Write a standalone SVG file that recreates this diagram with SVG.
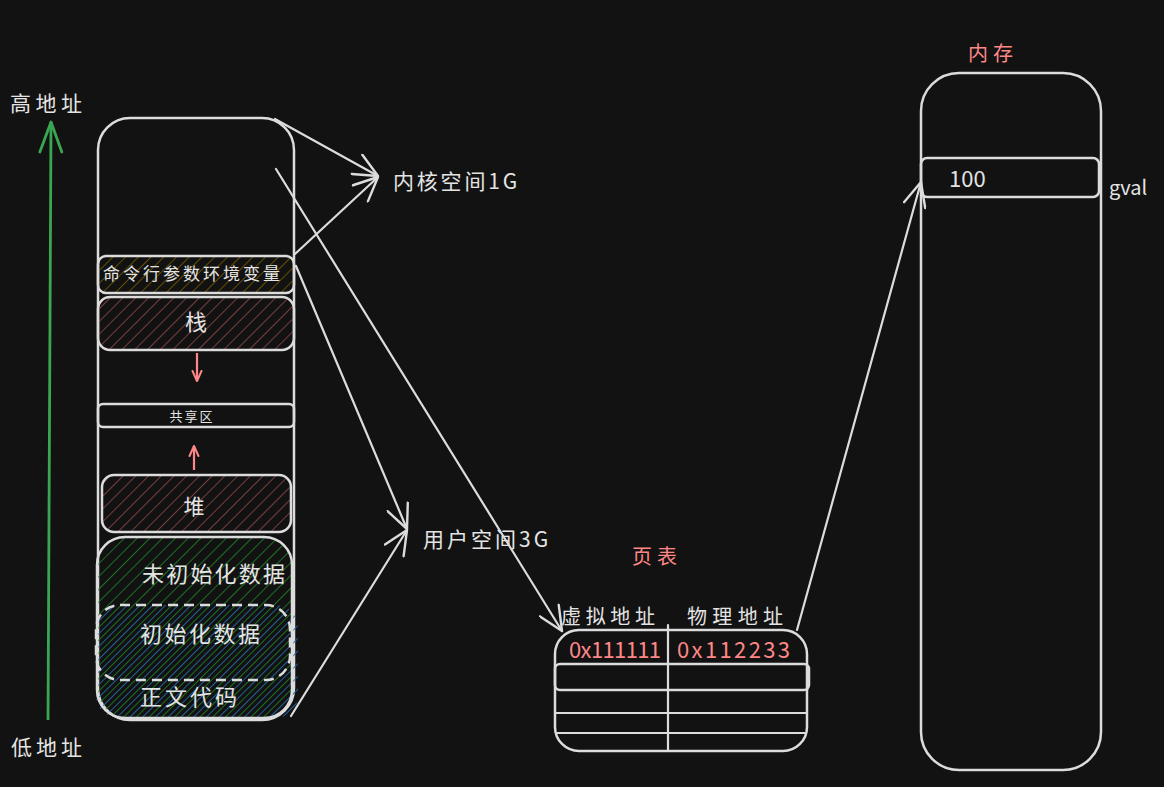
<svg xmlns="http://www.w3.org/2000/svg" width="1164" height="787" viewBox="0 0 1164 787">
<defs>
<style>
.bx{fill:none;stroke:#dcdcdc;stroke-width:2.5;stroke-linejoin:round}
.ln{fill:none;stroke:#dcdcdc;stroke-width:2.2;stroke-linecap:round}
.t{font-family:"Noto Sans CJK SC","Noto Sans",sans-serif;fill:#e4e4e4}
.r{fill:#ff8787}
</style>
<pattern id="hY" patternUnits="userSpaceOnUse" width="9" height="9" patternTransform="rotate(45)"><line x1="0" y1="0" x2="0" y2="9" stroke="#6b5200" stroke-width="1.8"/></pattern>
<pattern id="hR" patternUnits="userSpaceOnUse" width="9" height="9" patternTransform="rotate(45)"><line x1="0" y1="0" x2="0" y2="9" stroke="#804242" stroke-width="1.8"/></pattern>
<pattern id="hG" patternUnits="userSpaceOnUse" width="9" height="9" patternTransform="rotate(45)"><line x1="0" y1="0" x2="0" y2="9" stroke="#1f7826" stroke-width="1.8"/></pattern>
<pattern id="hB" patternUnits="userSpaceOnUse" width="9" height="9" patternTransform="rotate(45) translate(4.5,0)"><line x1="0" y1="0" x2="0" y2="9" stroke="#2766a6" stroke-width="1.8"/></pattern>
<marker id="aw" markerUnits="userSpaceOnUse" viewBox="0 0 28 24" markerWidth="28" markerHeight="24" refX="26" refY="12" orient="auto"><path d="M2,1 L26,12 L2,23" fill="none" stroke="#dcdcdc" stroke-width="2.4" stroke-linecap="round" stroke-linejoin="round"/></marker>
<marker id="ar" markerUnits="userSpaceOnUse" viewBox="0 0 12 12" markerWidth="12" markerHeight="12" refX="11" refY="6" orient="auto"><path d="M1,1.5 L11,6 L1,10.5" fill="none" stroke="#ff8787" stroke-width="2" stroke-linecap="round" stroke-linejoin="round"/></marker>
<marker id="ag" markerUnits="userSpaceOnUse" viewBox="0 0 34 26" markerWidth="34" markerHeight="26" refX="32" refY="13" orient="auto"><path d="M2,2 L32,13 L2,24" fill="none" stroke="#3aa652" stroke-width="2.8" stroke-linecap="round" stroke-linejoin="round"/></marker>
</defs>
<rect width="1164" height="787" fill="#121212"/>

<g id="axis">
<line x1="48" y1="720" x2="51" y2="122" stroke="#3aa652" stroke-width="2.8" marker-end="url(#ag)"/>
<text class="t" x="10" y="111" font-size="21" textLength="72">高地址</text>
<text class="t" x="11" y="755" font-size="21" textLength="71">低地址</text>
</g>

<g id="process-space">
<rect class="bx" x="98" y="118" width="196" height="602" rx="32"/>
</g>
<g id="argv-env">
<rect x="98" y="256" width="196" height="37" rx="8" fill="url(#hY)"/>
<rect class="bx" x="98" y="256" width="196" height="37" rx="8"/>
<text class="t" x="103" y="280" font-size="17" textLength="177" lengthAdjust="spacing">命令行参数环境变量</text>
</g>
<g id="stack">
<rect x="98" y="297" width="196" height="53" rx="12" fill="url(#hR)"/>
<rect class="bx" x="98" y="297" width="196" height="53" rx="12"/>
<text class="t" x="196" y="330" font-size="22" text-anchor="middle">栈</text>
</g>
<g id="shared">
<rect class="bx" x="98" y="404" width="196" height="23" rx="5"/>
<text class="t" x="192" y="421" font-size="13" text-anchor="middle" letter-spacing="2">共享区</text>
</g>
<g id="heap">
<rect x="102" y="475" width="189" height="57" rx="12" fill="url(#hR)"/>
<rect class="bx" x="102" y="475" width="189" height="57" rx="12"/>
<text class="t" x="194" y="514" font-size="21" text-anchor="middle">堆</text>
</g>
<g id="bss">
<rect x="97" y="537" width="195" height="181" rx="28" fill="url(#hG)"/>
<rect x="96" y="605" width="202" height="113" rx="22" fill="url(#hB)"/>
<rect class="bx" x="97" y="537" width="195" height="181" rx="28"/>
<text class="t" x="142" y="582" font-size="22" textLength="143">未初始化数据</text>
</g>
<g id="data">
<rect class="bx" x="96" y="605" width="194" height="75" rx="24" stroke-dasharray="10 6"/>
<text class="t" x="140" y="642" font-size="22" textLength="120">初始化数据</text>
</g>
<g id="text-seg">
<text class="t" x="140" y="705" font-size="22" textLength="97">正文代码</text>
</g>

<g id="kernel-label"><text class="t" x="393" y="189" font-size="21" letter-spacing="2.8">内核空间1G</text></g>
<g id="user-label"><text class="t" x="423" y="547" font-size="21" letter-spacing="3">用户空间3G</text></g>

<g id="page-table">
<text class="t r" x="632" y="564" font-size="20" textLength="45">页表</text>
<text class="t" x="561" y="624" font-size="20" textLength="94">虚拟地址</text>
<text class="t" x="687" y="624" font-size="20" textLength="96">物理地址</text>
<rect class="bx" x="555" y="630" width="252" height="121" rx="24"/>
<rect class="bx" x="555" y="664" width="254" height="26" rx="5"/>
<line class="ln" x1="556" y1="713" x2="806" y2="713"/>
<line class="ln" x1="557" y1="733" x2="805" y2="733"/>
<line class="ln" x1="668" y1="625" x2="668" y2="751"/>
<text class="t r" x="569" y="658" font-size="22" textLength="92">0x111111</text>
<text class="t r" x="677" y="658" font-size="22" textLength="113">0x112233</text>
</g>

<g id="memory">
<text class="t r" x="968" y="61" font-size="20" textLength="45">内存</text>
<rect class="bx" x="921" y="73" width="180" height="697" rx="38"/>
<rect class="bx" x="921" y="158" width="178" height="39" rx="6"/>
<text class="t" x="949" y="187" font-size="22">100</text>
<text class="t" x="1109" y="195" font-size="20">gval</text>
</g>

<g id="connectors">
<line class="ln" x1="275" y1="119" x2="378" y2="176" marker-end="url(#aw)"/>
<line class="ln" x1="295" y1="254" x2="378" y2="177" marker-end="url(#aw)"/>
<line class="ln" x1="276" y1="169" x2="562" y2="631" marker-end="url(#aw)"/>
<line class="ln" x1="296" y1="266" x2="407" y2="529" marker-end="url(#aw)"/>
<line class="ln" x1="291" y1="716" x2="407" y2="530" marker-end="url(#aw)"/>
<line class="ln" x1="797" y1="630" x2="921" y2="182" marker-end="url(#aw)"/>
<line x1="197" y1="353" x2="197" y2="381" stroke="#ff8787" stroke-width="2.2" marker-end="url(#ar)"/>
<line x1="194" y1="470" x2="194" y2="446" stroke="#ff8787" stroke-width="2.2" marker-end="url(#ar)"/>
</g>
</svg>
